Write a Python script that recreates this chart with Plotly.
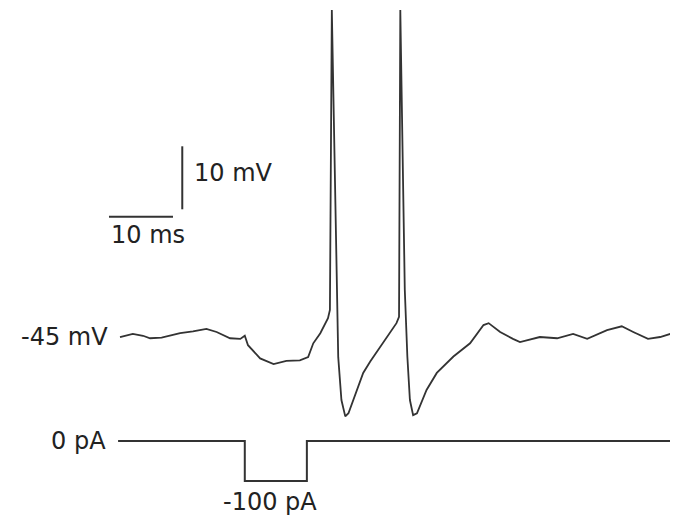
import plotly.graph_objects as go

# Membrane potential trace (time in ms, voltage in mV)
time_ms = [0.0, 2.0, 3.6, 4.7, 6.5, 9.4, 11.4, 13.5, 15.1, 17.2, 18.8, 19.5, 20.0, 21.9,
           24.0, 26.0, 28.1, 29.4, 30.2, 31.3, 32.5, 32.8, 33.1, 33.9, 34.1, 34.6, 35.2,
           35.7, 37.0, 38.0, 39.1, 40.6, 42.2, 43.2, 43.6, 43.8, 44.5, 44.9, 45.3, 45.8,
           46.4, 47.9, 49.5, 52.1, 54.7, 56.8, 57.6, 59.4, 61.4, 62.5, 65.6, 68.3, 70.8,
           73.0, 76.1, 78.4, 80.2, 82.5, 84.4, 87.0]
voltage_mV = [-45.0, -44.5, -44.8, -45.2, -45.1, -44.4, -44.1, -43.7, -44.2, -45.2, -45.3,
              -44.8, -46.3, -48.4, -49.3, -48.8, -48.7, -48.2, -46.0, -44.4, -42.0, -40.7,
              6.9, -37.5, -48.2, -55.0, -57.6, -57.1, -53.4, -50.7, -48.9, -46.7, -44.4,
              -42.8, -41.8, 6.9, -37.5, -48.1, -55.0, -57.4, -57.1, -53.4, -50.7, -48.1,
              -46.0, -43.1, -42.8, -44.2, -45.3, -45.8, -45.0, -45.2, -44.5, -45.3, -43.9,
              -43.3, -44.2, -45.3, -45.0, -44.2]

# Injected current step (time in ms, current in pA)
current_time_ms = [-0.3, 19.5, 19.5, 29.2, 29.2, 88.0]
current_pA = [0, 0, -100, -100, 0, 0]

# Scale bars
bar_time_ms = 10
bar_voltage_mV = 10
bar_origin_t = -1.72
bar_origin_v = -25.9
vbar_t = 9.73
vbar_v0 = -24.73

labels = {"rest": "-45 mV", "vbar": "10 mV", "hbar": "10 ms", "zero": "0 pA", "step": "-100 pA"}

ink = "#333333"
fig = go.Figure()
fig.add_trace(go.Scatter(x=time_ms, y=voltage_mV, mode="lines",
                         line=dict(color=ink, width=1.8), hoverinfo="skip"))
fig.add_trace(go.Scatter(x=current_time_ms, y=current_pA, mode="lines", yaxis="y2",
                         line=dict(color=ink, width=2), hoverinfo="skip"))
fig.add_trace(go.Scatter(x=[bar_origin_t, bar_origin_t + bar_time_ms],
                         y=[bar_origin_v, bar_origin_v], mode="lines",
                         line=dict(color=ink, width=2), hoverinfo="skip"))
fig.add_trace(go.Scatter(x=[vbar_t, vbar_t], y=[vbar_v0, vbar_v0 + bar_voltage_mV],
                         mode="lines", line=dict(color=ink, width=2), hoverinfo="skip"))

font = dict(family="DejaVu Sans", size=24, color="#222222")
ann = [
    dict(x=-1.56, y=-45, xref="x", yref="y", text=labels["rest"], xanchor="right", yanchor="middle"),
    dict(x=11.25, y=-18.9, xref="x", yref="y", text=labels["vbar"], xanchor="left", yanchor="middle"),
    dict(x=4.3, y=-28.8, xref="x", yref="y", text=labels["hbar"], xanchor="center", yanchor="middle"),
    dict(x=-1.9, y=0, xref="x", yref="y2", text=labels["zero"], xanchor="right", yanchor="middle"),
    dict(x=23.5, y=-152.5, xref="x", yref="y2", text=labels["step"], xanchor="center", yanchor="middle"),
]
for a in ann:
    a.update(showarrow=False, font=font)

fig.update_layout(
    width=662, height=507, margin=dict(l=0, r=0, t=0, b=0),
    paper_bgcolor="white", plot_bgcolor="white", showlegend=False,
    xaxis=dict(range=[-17.5, 85.94], visible=False, fixedrange=True),
    yaxis=dict(range=[-73.25, 7.22], visible=False, fixedrange=True),
    yaxis2=dict(range=[-185, 1082.5], visible=False, overlaying="y", fixedrange=True),
    annotations=ann,
)
fig.write_html("out.html")
